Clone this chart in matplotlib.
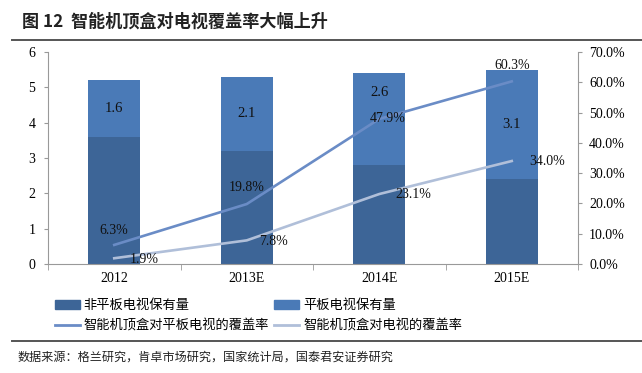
import numpy as np
import matplotlib.pyplot as plt
from matplotlib.lines import Line2D
from matplotlib.patches import Patch

plt.rcParams['font.family'] = ['Liberation Serif', 'Noto Sans CJK SC', 'DejaVu Sans']

years = ['2012', '2013E', '2014E', '2015E']
non_flat_tv = [3.6, 3.2, 2.8, 2.4]
flat_tv = [1.6, 2.1, 2.6, 3.1]
cov_flat = [6.3, 19.8, 47.9, 60.3]
cov_all = [1.9, 7.8, 23.1, 34.0]

dark_blue = '#3d6597'
mid_blue = '#4a7ab7'
line1_color = '#6a8cc6'
line2_color = '#b0bfd9'
cjk = ['Noto Sans CJK SC', 'DejaVu Sans']

fig = plt.figure(figsize=(6.42, 3.73), dpi=100)
ax = fig.add_axes([48 / 642, 1 - 264 / 373, 530 / 642, 212 / 373])
x = np.arange(len(years))

ax.bar(x, non_flat_tv, width=0.39, color=dark_blue, zorder=2)
ax.bar(x, flat_tv, width=0.39, bottom=non_flat_tv, color=mid_blue, zorder=2)
# label of 2014E sits higher in the original
bar_lab_shift = [0.0, 0.0, 0.75, 0.0]
for i in range(len(years)):
    ax.text(x[i], non_flat_tv[i] + flat_tv[i] / 2 + bar_lab_shift[i], '%.1f' % flat_tv[i],
            ha='center', va='center', fontsize=10.5, color='#111111', zorder=5)

ax.set_ylim(0, 6)
ax.set_xlim(-0.5, 3.5)
ax.set_yticks(range(7))
ax.set_xticks(x)
ax.set_xticklabels(years, fontsize=10)
ax.set_xticks(np.arange(-0.5, 4, 1), minor=True)
ax.tick_params(axis='x', which='major', length=0, pad=6)
ax.tick_params(axis='x', which='minor', length=4, color='#999999', direction='out')
ax.tick_params(axis='y', length=3, color='#999999', labelsize=10, pad=6)
for s in ['top', 'right']:
    ax.spines[s].set_visible(False)
for s in ['left', 'bottom']:
    ax.spines[s].set_color('#999999')
    ax.spines[s].set_linewidth(0.8)

ax2 = ax.twinx()
ax2.plot(x, cov_flat, color=line1_color, lw=1.9, zorder=3)
ax2.plot(x, cov_all, color=line2_color, lw=1.9, zorder=3)
ax2.set_ylim(0, 70)
ax2.set_yticks(range(0, 71, 10))
ax2.set_yticklabels(['%.1f%%' % v for v in range(0, 71, 10)])
ax2.tick_params(axis='y', length=3, color='#999999', labelsize=10, pad=5)
for s in ['top', 'left', 'bottom']:
    ax2.spines[s].set_visible(False)
ax2.spines['right'].set_color('#999999')
ax2.spines['right'].set_linewidth(0.8)

# data labels (offsets in category units / percent)
offs1 = [(0.0, 4.9), (0.0, 5.3), (0.06, 0.3), (0.0, 5.4)]
offs2 = [(0.23, -0.25), (0.2, -0.5), (0.26, -0.3), (0.27, -0.3)]
for i in range(len(years)):
    ax2.text(x[i] + offs1[i][0], cov_flat[i] + offs1[i][1], '%.1f%%' % cov_flat[i],
             ha='center', va='center', fontsize=10, color='#111111', zorder=6)
    ax2.text(x[i] + offs2[i][0], cov_all[i] + offs2[i][1], '%.1f%%' % cov_all[i],
             ha='center', va='center', fontsize=10, color='#111111', zorder=6)

# title and separators
fig.text(22 / 642, 1 - 22 / 373, '图 12  智能机顶盒对电视覆盖率大幅上升', fontsize=12.3,
         fontweight='bold', family=cjk, va='center', ha='left', color='#222222')
fig.add_artist(Line2D([12 / 642, 1.0], [1 - 40 / 373] * 2, color='#555555', lw=1.4))
fig.add_artist(Line2D([12 / 642, 1.0], [1 - 341 / 373] * 2, color='#555555', lw=1.4))

handles = [Patch(color=dark_blue), Line2D([], [], color=line1_color, lw=2),
           Patch(color=mid_blue), Line2D([], [], color=line2_color, lw=2)]
labels = ['非平板电视保有量', '智能机顶盒对平板电视的覆盖率', '平板电视保有量', '智能机顶盒对电视的覆盖率']
fig.legend(handles, labels, loc='center left', bbox_to_anchor=(48 / 642, 1 - 316 / 373),
           ncol=2, frameon=False, prop={'family': cjk, 'size': 9.5},
           handlelength=1.9, handleheight=0.6, handletextpad=0.3,
           columnspacing=0.4, labelspacing=0.55, borderpad=0)

fig.text(18 / 642, 1 - 357 / 373, '数据来源：格兰研究，肯卓市场研究，国家统计局，国泰君安证券研究',
         fontsize=8.7, family=cjk, va='center', ha='left', color='#222222')

fig.savefig('out.png', dpi=100)
